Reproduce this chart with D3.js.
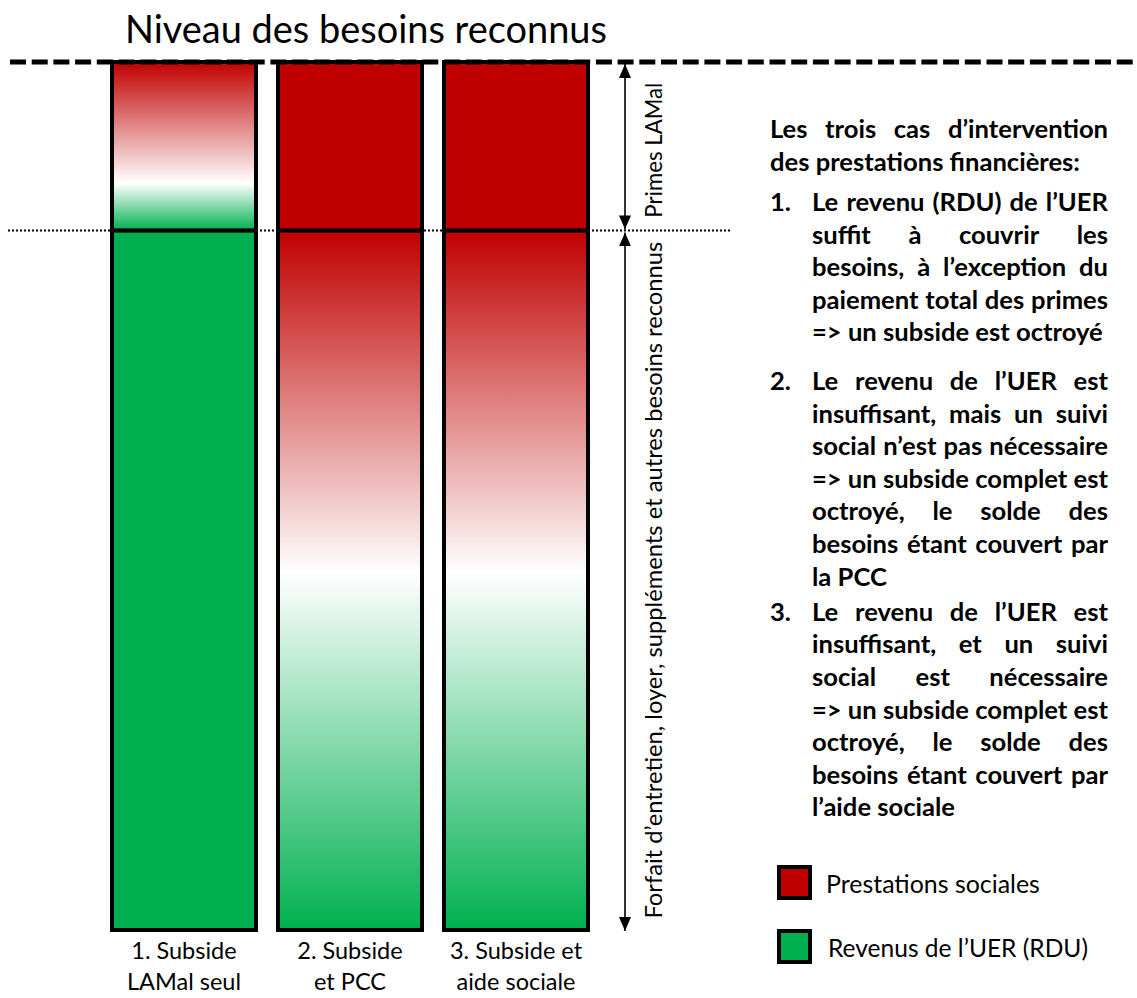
<!DOCTYPE html>
<html><head><meta charset="utf-8">
<script src="https://cdn.jsdelivr.net/npm/d3@7"></script>
<style>body{margin:0;background:#fff}svg{display:block}</style>
</head><body>
<svg id="chart" width="1137" height="998"></svg>
<script>
// ---------------- DATA ----------------
const categories = ["1. Subside LAMal seul", "2. Subside et PCC", "3. Subside et aide sociale"];
const categoryLabelLines = [["1. Subside", "LAMal seul"], ["2. Subside", "et PCC"], ["3. Subside et", "aide sociale"]];
const segmentKeys = ["forfait", "primes"];
const segmentLabels = ["Forfait d’entretien, loyer, suppléments et autres besoins reconnus", "Primes LAMal"];
const segmentValues = [80.6, 19.4];          // share of recognised needs (total = 100)
const coverForfait = ["revenu", "mix", "mix"];        // what covers the forfait part, per case
const coverPrimes = ["mix", "prestations", "prestations"]; // what covers the premiums, per case
const mixWhitePoint = [0.49, 0.72];          // where the red→green transition is white (forfait, primes)
const legendKeys = ["prestations", "revenu"];
const legendLabels = ["Prestations sociales", "Revenus de l’UER (RDU)"];
const titleText = "Niveau des besoins reconnus";
const headingLines = ["Les trois cas d’intervention", "des prestations financières:"];
const itemNumbers = ["1.", "2.", "3."];
const itemLines = [
  ["Le revenu (RDU) de l’UER", "suffit à couvrir les", "besoins, à l’exception du", "paiement total des primes", "=> un subside est octroyé"],
  ["Le revenu de l’UER est", "insuffisant, mais un suivi", "social n’est pas nécessaire", "=> un subside complet est", "octroyé, le solde des", "besoins étant couvert par", "la PCC"],
  ["Le revenu de l’UER est", "insuffisant, et un suivi", "social est nécessaire", "=> un subside complet est", "octroyé, le solde des", "besoins étant couvert par", "l’aide sociale"]
];

// ---------------- SETUP ----------------
const RED = "#c00000", GREEN = "#00b050", FONT = "Lato, 'Open Sans', sans-serif";
const svg = d3.select("#chart");
const defs = svg.append("defs");

const x = d3.scaleBand().domain(categories).range([101, 599]).paddingInner(0.1325).paddingOuter(0.06625);
const total = d3.sum(segmentValues);
const y = d3.scaleLinear().domain([0, total]).range([930, 62]);

const rows = categories.map((c, i) => ({cat: c, forfait: segmentValues[0], primes: segmentValues[1], cover: {forfait: coverForfait[i], primes: coverPrimes[i]}}));
const stacked = d3.stack().keys(segmentKeys)(rows);

// gradients
segmentKeys.forEach((k, i) => {
  const g = defs.append("linearGradient").attr("id", "mix-" + k).attr("x1", 0).attr("y1", 0).attr("x2", 0).attr("y2", 1);
  g.append("stop").attr("offset", 0).attr("stop-color", RED);
  g.append("stop").attr("offset", mixWhitePoint[i]).attr("stop-color", "#ffffff");
  g.append("stop").attr("offset", 1).attr("stop-color", GREEN);
});
function fillFor(cover, key) {
  if (cover === "revenu") return GREEN;
  if (cover === "prestations") return RED;
  return "url(#mix-" + key + ")";
}

// helper: fit font size so that text has a target width
function fitText(sel, target) {
  const fs = parseFloat(sel.attr("font-size"));
  const w = sel.node().getComputedTextLength();
  sel.attr("font-size", (fs * target / w).toFixed(2));
  return sel;
}

// ---------------- TITLE ----------------
fitText(svg.append("text").attr("x", 125).attr("y", 43).attr("font-family", FONT).attr("font-size", 36)
  .attr("fill", "#000").text(titleText), 482);

// ---------------- REFERENCE LINES ----------------
svg.append("line").attr("x1", 8).attr("x2", 730).attr("y1", y(segmentValues[0])).attr("y2", y(segmentValues[0]))
  .attr("stroke", "#000").attr("stroke-width", 2).attr("stroke-dasharray", "2,2");

// ---------------- BARS ----------------
const layers = svg.append("g").selectAll("g").data(stacked).join("g");
layers.selectAll("rect").data(d => d.map(p => ({p, key: d.key})))
  .join("rect")
  .attr("x", d => x(d.p.data.cat))
  .attr("width", x.bandwidth())
  .attr("y", d => y(d.p[1]))
  .attr("height", d => y(d.p[0]) - y(d.p[1]))
  .attr("fill", d => fillFor(d.p.data.cover[d.key], d.key))
  .attr("stroke", "#000").attr("stroke-width", 4);

svg.append("line").attr("x1", 10).attr("x2", 1137).attr("y1", y(total)).attr("y2", y(total))
  .attr("stroke", "#000").attr("stroke-width", 5).attr("stroke-dasharray", "16,5.7");

// ---------------- CATEGORY LABELS ----------------
categoryLabelLines.forEach((lines, i) => {
  lines.forEach((ln, j) => {
    svg.append("text").attr("x", x(categories[i]) + x.bandwidth() / 2).attr("y", 959 + j * 31)
      .attr("text-anchor", "middle").attr("font-family", FONT).attr("font-size", 23.5).attr("fill", "#000").text(ln);
  });
});

// ---------------- ARROWS ----------------
const mk = defs.append("marker").attr("id", "arrowEnd").attr("markerUnits", "userSpaceOnUse")
  .attr("viewBox", "0 0 14 12").attr("refX", 14).attr("refY", 6).attr("markerWidth", 14).attr("markerHeight", 12)
  .attr("orient", "auto-start-reverse");
mk.append("path").attr("d", "M0,0 L14,6 L0,12 Z").attr("fill", "#000");
const ax = 625;
const arrows = [[y(total) + 2, y(segmentValues[0]) - 1], [y(segmentValues[0]) + 2, y(0) + 1]];
arrows.forEach(a => {
  svg.append("line").attr("x1", ax).attr("x2", ax).attr("y1", a[0]).attr("y2", a[1])
    .attr("stroke", "#000").attr("stroke-width", 1.6)
    .attr("marker-start", "url(#arrowEnd)").attr("marker-end", "url(#arrowEnd)");
});
const segLabelWidths = [677, 135];
segmentKeys.forEach((k, i) => {
  const lo = d3.sum(segmentValues.slice(0, i)), hi = lo + segmentValues[i];
  const cy = (y(lo) + y(hi)) / 2 + (i === 1 ? 4 : 0);
  fitText(svg.append("text").attr("transform", `translate(662,${cy}) rotate(-90)`).attr("text-anchor", "middle")
    .attr("font-family", FONT).attr("font-size", 22).attr("fill", "#000").text(segmentLabels[i]), segLabelWidths[i]);
});

// ---------------- TEXT BLOCK ----------------
const tb = svg.append("g").attr("font-family", FONT).attr("font-weight", 700).attr("fill", "#000");
const probe = tb.append("text").attr("font-size", 22).text(headingLines[1]);
const bodyFs = 22 * 310 / probe.node().getComputedTextLength();
probe.remove();
function measure(str) {
  const t = tb.append("text").attr("font-size", bodyFs).text(str);
  const w = t.node().getComputedTextLength(); t.remove(); return w;
}
const sp = measure("a a") - measure("aa");
function drawLine(str, x0, x1, yb, justify) {
  const words = str.split(" ");
  const ws = words.map(measure);
  const gap = (justify && words.length > 1) ? (x1 - x0 - d3.sum(ws)) / (words.length - 1) : sp;
  let cx = x0;
  words.forEach((w, i) => {
    tb.append("text").attr("x", cx).attr("y", yb).attr("font-size", bodyFs).text(w);
    cx += ws[i] + gap;
  });
}
const LH = 32.6, paraGaps = [16, 2.5];
let yb = 138;
headingLines.forEach((ln, i) => { drawLine(ln, 770, 1108, yb, i < headingLines.length - 1); yb += LH; });
yb = 211;
itemLines.forEach((lines, k) => {
  tb.append("text").attr("x", 770).attr("y", yb).attr("font-size", bodyFs).text(itemNumbers[k]);
  lines.forEach((ln, i) => { drawLine(ln, 812, 1108, yb, i < lines.length - 1); yb += LH; });
  yb += paraGaps[k] || 0;
});

// ---------------- LEGEND ----------------
legendKeys.forEach((k, i) => {
  const ly = 867 + i * 64;
  svg.append("rect").attr("x", 779).attr("y", ly).attr("width", 31).attr("height", 31)
    .attr("fill", fillFor(k)).attr("stroke", "#000").attr("stroke-width", 4);
  fitText(svg.append("text").attr("x", 826 + i * 2).attr("y", ly + 26).attr("font-family", FONT).attr("font-size", 24)
    .attr("fill", "#000").text(legendLabels[i]), i === 0 ? 214 : 260);
});
</script>
</body></html>
